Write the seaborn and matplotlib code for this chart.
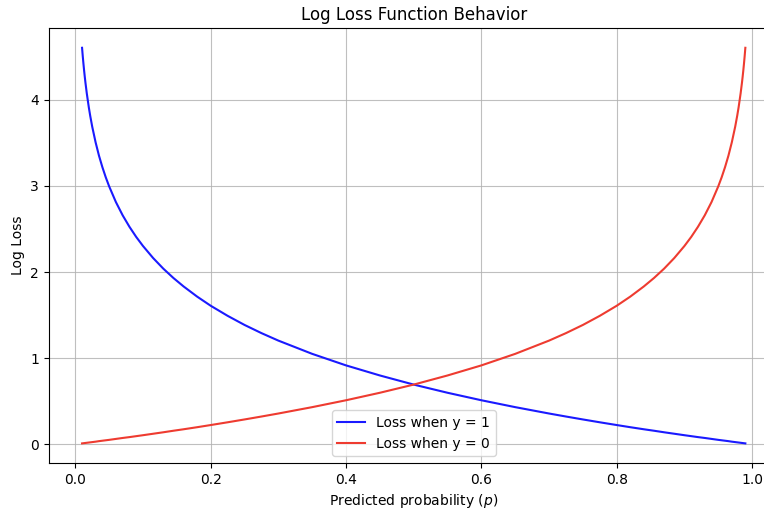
import pandas as pd
import matplotlib
matplotlib.use("Agg")
import matplotlib.pyplot as plt
import seaborn as sns

# predicted probability values and loss values
p_values = [0.01, 0.011, 0.012, 0.013, 0.014, 0.015, 0.017, 0.02, 0.022, 0.025, 0.03, 0.035,
            0.04, 0.045, 0.05, 0.06, 0.07, 0.08, 0.09, 0.1, 0.115, 0.13, 0.145, 0.16, 0.18,
            0.2, 0.225, 0.25, 0.275, 0.3, 0.35, 0.4, 0.45, 0.5,
            0.55, 0.6, 0.65, 0.7, 0.725, 0.75, 0.775, 0.8, 0.82, 0.84, 0.855, 0.87, 0.885,
            0.9, 0.91, 0.92, 0.93, 0.94, 0.95, 0.955, 0.96, 0.965, 0.97, 0.975, 0.978,
            0.98, 0.983, 0.985, 0.986, 0.987, 0.988, 0.989, 0.99]
loss_y1 = [4.605, 4.510, 4.423, 4.343, 4.269, 4.200, 4.075, 3.912, 3.817, 3.689, 3.507, 3.352,
           3.219, 3.101, 2.996, 2.813, 2.659, 2.526, 2.408, 2.303, 2.163, 2.040, 1.931, 1.833, 1.715,
           1.609, 1.492, 1.386, 1.291, 1.204, 1.050, 0.916, 0.799, 0.693,
           0.598, 0.511, 0.431, 0.357, 0.322, 0.288, 0.255, 0.223, 0.198, 0.174, 0.157, 0.139, 0.122,
           0.105, 0.094, 0.083, 0.073, 0.062, 0.051, 0.046, 0.041, 0.036, 0.030, 0.025, 0.022,
           0.020, 0.017, 0.015, 0.014, 0.013, 0.012, 0.011, 0.010]
loss_y0 = [0.010, 0.011, 0.012, 0.013, 0.014, 0.015, 0.017, 0.020, 0.022, 0.025, 0.030, 0.036,
           0.041, 0.046, 0.051, 0.062, 0.073, 0.083, 0.094, 0.105, 0.122, 0.139, 0.157, 0.174, 0.198,
           0.223, 0.255, 0.288, 0.322, 0.357, 0.431, 0.511, 0.598, 0.693,
           0.799, 0.916, 1.050, 1.204, 1.291, 1.386, 1.492, 1.609, 1.715, 1.833, 1.931, 2.040, 2.163,
           2.303, 2.408, 2.526, 2.659, 2.813, 2.996, 3.101, 3.219, 3.352, 3.507, 3.689, 3.817,
           3.912, 4.075, 4.200, 4.269, 4.343, 4.423, 4.510, 4.605]

df = pd.DataFrame({"p": p_values, "y1": loss_y1, "y0": loss_y0})

fig = plt.figure(figsize=(7.64, 5.09), dpi=100)
ax = fig.add_axes([0.064, 0.090, 0.955, 0.855])

sns.lineplot(data=df, x="p", y="y1", ax=ax, color="#1a1aff", label="Loss when y = 1", linewidth=1.5)
sns.lineplot(data=df, x="p", y="y0", ax=ax, color="#ee3b30", label="Loss when y = 0", linewidth=1.5)

ax.set_xlim(-0.039, 1.039)
ax.set_ylim(-0.22, 4.835)
ax.set_title("Log Loss Function Behavior", fontsize=12)
ax.set_xlabel("Predicted probability ($p$)")
ax.set_ylabel("Log Loss")
ax.grid(True, color="#b0b0b0", linewidth=0.8, alpha=0.8)
ax.spines["right"].set_visible(False)
ax.legend(loc="lower center")

fig.savefig("out.png", dpi=100)
